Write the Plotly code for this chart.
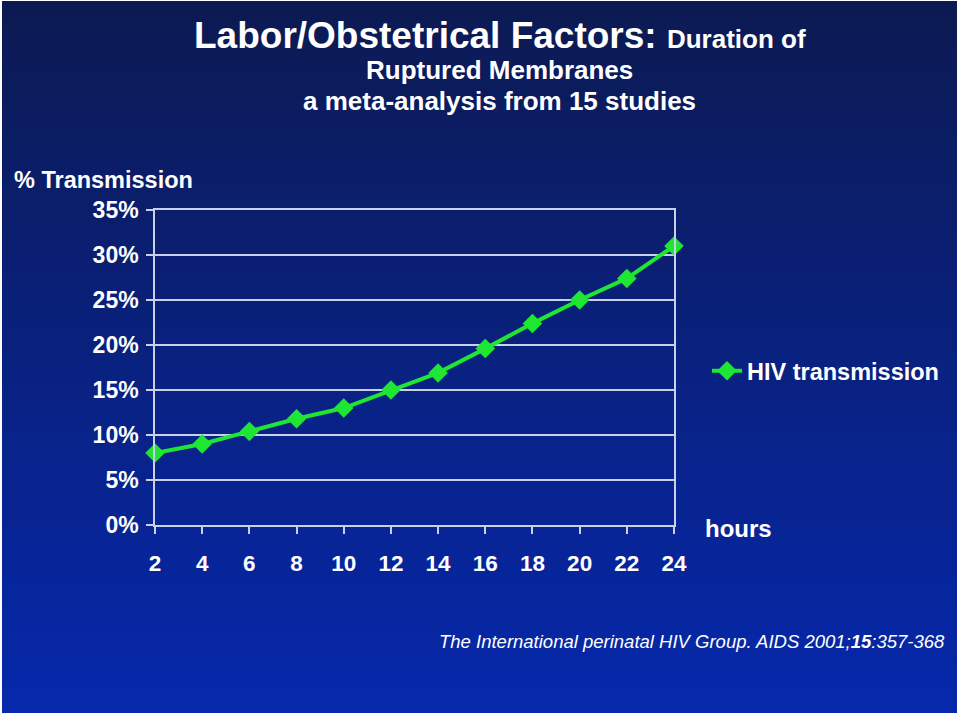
import plotly.graph_objects as go

# ---- data ----
hours = [2, 4, 6, 8, 10, 12, 14, 16, 18, 20, 22, 24]
hiv_transmission = [8.0, 9.0, 10.4, 11.8, 13.0, 15.0, 16.9, 19.6, 22.4, 25.0, 27.4, 31.0]
y_ticks = [0, 5, 10, 15, 20, 25, 30, 35]
y_tick_labels = ["0%", "5%", "10%", "15%", "20%", "25%", "30%", "35%"]
series_name = "HIV transmission"

W, H = 960, 716
L, R, T, B = 155, 674, 210, 525  # plot area in px
pw, ph = R - L, B - T

def px_x(x):
    return (x - L) / pw

def px_y(y):
    return (B - y) / ph

FONT = "Liberation Sans, Arial, sans-serif"
GREEN = "#1ee632"
GRID = "#c9d0ea"

fig = go.Figure()
fig.add_trace(go.Scatter(
    x=hours, y=hiv_transmission, mode="lines+markers", name=series_name,
    line=dict(color=GREEN, width=4),
    marker=dict(symbol="diamond", size=15, color=GREEN),
    cliponaxis=False,
))

# background gradient made of overlapping bands
shapes = []
top = (12, 26, 82)
bot = (6, 40, 172)
x0p, x1p = px_x(2), px_x(957)
y_start, y_end = 1, 713
step = 4
ys = list(range(y_start, y_end, step))
for i, ya in enumerate(ys):
    yb = min(ya + step + 3, y_end)
    t = i / (len(ys) - 1)
    c = tuple(round(top[k] + (bot[k] - top[k]) * t) for k in range(3))
    shapes.append(dict(type="rect", xref="paper", yref="paper",
                       x0=x0p, x1=x1p, y0=px_y(yb), y1=px_y(ya),
                       fillcolor="rgb(%d,%d,%d)" % c, line=dict(width=0),
                       layer="below"))

annotations = [
    dict(text="<b>Labor/Obstetrical Factors: <span style='font-size:26px'>Duration of</span></b>",
         x=px_x(500), y=px_y(35), xref="paper", yref="paper", showarrow=False,
         font=dict(size=37, color="white", family=FONT), xanchor="center", yanchor="middle"),
    dict(text="<b>Ruptured Membranes</b>",
         x=px_x(499), y=px_y(70), xref="paper", yref="paper", showarrow=False,
         font=dict(size=26, color="white", family=FONT), xanchor="center", yanchor="middle"),
    dict(text="<b>a meta-analysis from 15 studies</b>",
         x=px_x(499), y=px_y(101), xref="paper", yref="paper", showarrow=False,
         font=dict(size=26, color="white", family=FONT), xanchor="center", yanchor="middle"),
    dict(text="<b>% Transmission</b>",
         x=px_x(12), y=px_y(180), xref="paper", yref="paper", showarrow=False,
         font=dict(size=23.5, color="white", family=FONT), xanchor="left", yanchor="middle"),
    dict(text="<b>hours</b>",
         x=px_x(703), y=px_y(528), xref="paper", yref="paper", showarrow=False,
         font=dict(size=24, color="white", family=FONT), xanchor="left", yanchor="middle"),
    dict(text="<i>The International perinatal HIV Group. AIDS 2001;<b>15</b>:357-368</i>",
         x=px_x(947), y=px_y(641), xref="paper", yref="paper", showarrow=False,
         font=dict(size=18.5, color="white", family=FONT), xanchor="right", yanchor="middle"),
]

fig.update_layout(
    width=W, height=H,
    margin=dict(l=L, r=W - R, t=T, b=H - B, pad=0),
    paper_bgcolor="white",
    plot_bgcolor="rgba(0,0,0,0)",
    shapes=shapes,
    annotations=annotations,
    showlegend=True,
    legend=dict(x=px_x(707), y=px_y(371), xanchor="left", yanchor="middle",
                bgcolor="rgba(0,0,0,0)",
                font=dict(size=23.5, color="white", family=FONT, weight="bold"),
                itemwidth=30),
    font=dict(family=FONT, color="white"),
)

fig.update_xaxes(
    range=[2, 24], tickvals=hours, ticktext=[str(h) for h in hours],
    showgrid=False, zeroline=False,
    showline=True, linecolor=GRID, linewidth=1.5, mirror=True,
    ticks="outside", ticklen=7, tickcolor=GRID, tickwidth=1.5,
    tickfont=dict(size=22.5, color="white", family=FONT, weight="bold"),
    ticklabelstandoff=10,
)
fig.update_yaxes(
    range=[0, 35], tickvals=y_ticks, ticktext=y_tick_labels,
    showgrid=True, gridcolor=GRID, gridwidth=1.5, zeroline=False,
    showline=True, linecolor=GRID, linewidth=1.5, mirror=True,
    ticks="outside", ticklen=7, tickcolor=GRID, tickwidth=1.5,
    tickfont=dict(size=23, color="white", family=FONT, weight="bold"),
    ticklabelstandoff=3,
)

fig.write_html("out.html", config={"displayModeBar": False},
               post_script="document.body.style.margin='0';document.body.style.padding='0';")
